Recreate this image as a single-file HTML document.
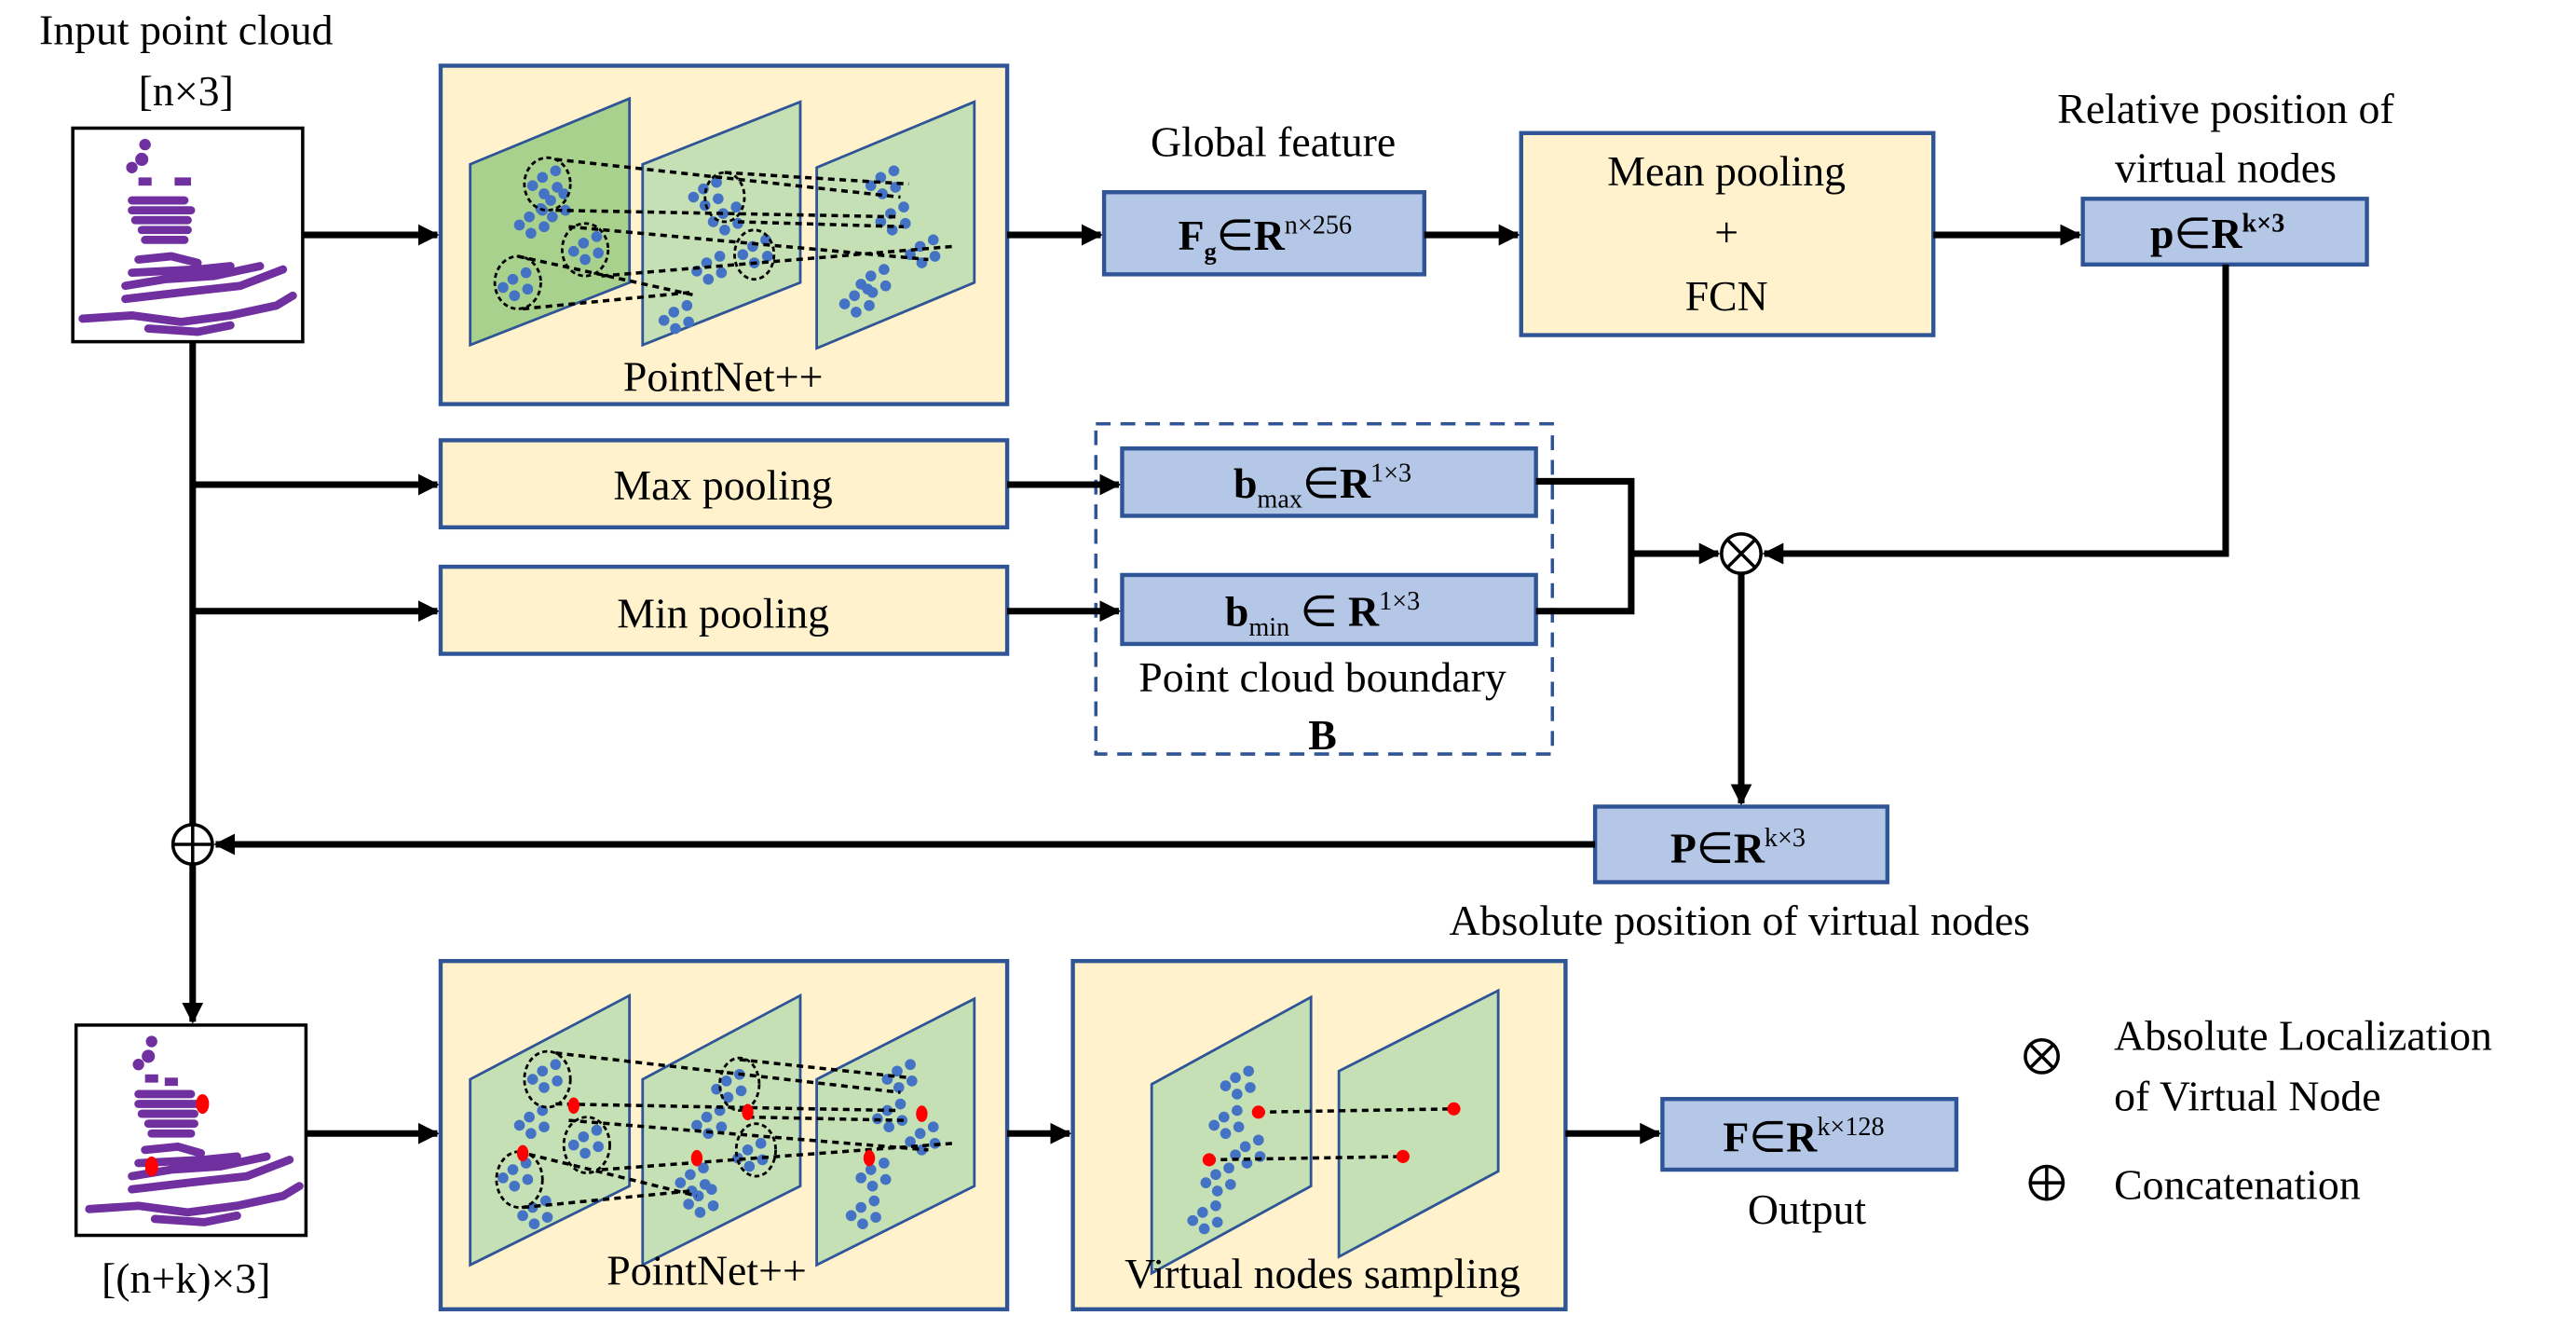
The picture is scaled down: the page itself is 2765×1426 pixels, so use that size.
<!DOCTYPE html>
<html><head><meta charset="utf-8"><style>html,body{margin:0;padding:0;background:#fff}svg{display:block}
svg text{font-family:"Liberation Serif","Times New Roman",serif}</style></head>
<body>
<svg width="2765" height="1426" viewBox="0 0 1568 809" xmlns="http://www.w3.org/2000/svg">
<defs>
<marker id="a" viewBox="0 0 10 10" markerWidth="13" markerHeight="13" refX="9" refY="5" orient="auto" markerUnits="userSpaceOnUse"><path d="M0,0 L10,5 L0,10 Z" fill="#000"/></marker>
<g id="dots">
<circle cx="0" cy="0" r="3.3"/><circle cx="8" cy="-4" r="3.3"/><circle cx="9" cy="6" r="3.3"/><circle cx="1" cy="10" r="3.3"/><circle cx="-6" cy="5" r="3.3"/>
</g>
</defs>
<style>
text{fill:#000;font-family:"Liberation Serif","Times New Roman",serif}
.y{fill:#fff2cc;stroke:#2f5597;stroke-width:2.5}
.b{fill:#b4c7e7;stroke:#2f5597;stroke-width:2.5}
.ln{stroke:#000;stroke-width:4;fill:none}
.pl1{fill:#a9d18e;stroke:#2f5597;stroke-width:1.6}
.pl2{fill:#c5e0b4;stroke:#2f5597;stroke-width:1.6}
.dash{stroke:#000;stroke-width:2;stroke-dasharray:4,3;fill:none}
.bl{fill:#4472c4}
.rd{fill:#ff0000}
.cl{fill:none;stroke:#000;stroke-width:1.6;stroke-dasharray:3,2}
.t{font-size:26px}
.bt{font-size:26px;font-weight:bold}
.pc{stroke:#7030a0;stroke-width:5;fill:none;stroke-linecap:round}
.pd{fill:#7030a0}
</style>

<text class="t" x="113" y="27" text-anchor="middle">Input point cloud</text>
<text class="t" x="113" y="64" text-anchor="middle">[n×3]</text>

<rect x="44" y="78" width="140" height="130" fill="#fff" stroke="#000" stroke-width="2"/>
<g>
<circle class="pd" cx="88" cy="88" r="3.5"/><circle class="pd" cx="86" cy="97" r="4"/><circle class="pd" cx="80" cy="102" r="3.5"/>
<rect class="pd" x="84" y="108" width="8" height="5"/><rect class="pd" x="106" y="108" width="10" height="5"/>
<path class="pc" d="M80,122 L112,122 M80,128 L116,128 M82,134 L114,134 M86,140 L114,140 M88,146 L112,146"/>
<path class="pc" d="M84,158 L104,156 L120,160 M80,166 L120,164 L140,162 M76,174 L100,170 L130,168 L158,162 M76,182 L110,178 L146,174 L172,164 M50,194 L80,192 L110,196 L140,192 L168,186 L178,180 M90,200 L120,202 L140,198"/>
</g>
<path class="ln" d="M184,143 L266,143" marker-end="url(#a)"/>

<rect class="y" x="268" y="40" width="345" height="206"/>
<polygon class="pl1" points="286,100 383,60 383,172 286,210"/>
<polygon class="pl2" points="391,100 487,62 487,172 391,210"/>
<polygon class="pl2" points="497,102 593,62 593,172 497,212"/>
<g class="bl">
<use href="#dots" x="330" y="108"/><use href="#dots" x="322" y="132"/><use href="#dots" x="355" y="148"/><use href="#dots" x="312" y="170"/><use href="#dots" x="335" y="122"/>
<use href="#dots" x="428" y="115"/><use href="#dots" x="440" y="130"/><use href="#dots" x="458" y="150"/><use href="#dots" x="430" y="160"/><use href="#dots" x="410" y="190"/>
<use href="#dots" x="536" y="108"/><use href="#dots" x="542" y="130"/><use href="#dots" x="560" y="150"/><use href="#dots" x="530" y="168"/><use href="#dots" x="520" y="180"/>
</g>
<ellipse class="cl" cx="333" cy="112" rx="14" ry="16"/><ellipse class="cl" cx="356" cy="152" rx="14" ry="16"/><ellipse class="cl" cx="315" cy="172" rx="14" ry="16"/>
<ellipse class="cl" cx="441" cy="120" rx="12" ry="15"/><ellipse class="cl" cx="459" cy="155" rx="12" ry="15"/>
<path class="dash" d="M338,97 L548,120 M338,128 L548,132 M346,138 L565,158 M366,168 L580,150 M315,156 L424,180 M318,188 L420,178 M441,105 L553,112 M449,135 L550,138"/>
<text class="t" x="440" y="238" text-anchor="middle">PointNet++</text>

<path class="ln" d="M613,143 L670,143" marker-end="url(#a)"/>
<text class="t" x="775" y="95" text-anchor="middle">Global  feature</text>
<rect class="b" x="672" y="117" width="195" height="50"/>
<text class="bt" x="770" y="152" text-anchor="middle">F<tspan font-size="15" dy="6">g</tspan><tspan dy="-6" font-weight="normal">∈</tspan>R<tspan font-size="16" font-weight="normal" dy="-10">n×256</tspan></text>

<path class="ln" d="M867,143 L924,143" marker-end="url(#a)"/>
<rect class="y" x="926" y="81" width="251" height="123"/>
<text class="t" x="1051" y="113" text-anchor="middle">Mean pooling</text>
<text class="t" x="1051" y="150" text-anchor="middle">+</text>
<text class="t" x="1051" y="189" text-anchor="middle">FCN</text>

<path class="ln" d="M1177,143 L1266,143" marker-end="url(#a)"/>
<text class="t" x="1355" y="75" text-anchor="middle">Relative position of</text>
<text class="t" x="1355" y="111" text-anchor="middle">virtual nodes</text>
<rect class="b" x="1268" y="121" width="173" height="40"/>
<text class="bt" x="1350" y="151" text-anchor="middle">p<tspan font-weight="normal">∈</tspan>R<tspan font-size="16" dy="-10">k×3</tspan></text>
<path class="ln" d="M1355,161 L1355,337 L1074,337" marker-end="url(#a)"/>

<path class="ln" d="M117,208 L117,502"/>
<path class="ln" d="M117,295 L266,295" marker-end="url(#a)"/>
<path class="ln" d="M117,372 L266,372" marker-end="url(#a)"/>

<rect class="y" x="268" y="268" width="345" height="53"/>
<text class="t" x="440" y="304" text-anchor="middle">Max pooling</text>
<rect class="y" x="268" y="345" width="345" height="53"/>
<text class="t" x="440" y="382" text-anchor="middle">Min pooling</text>

<rect x="667" y="258" width="278" height="201" fill="none" stroke="#2f5597" stroke-width="2" stroke-dasharray="9,6"/>
<path class="ln" d="M613,295 L681,295" marker-end="url(#a)"/>
<path class="ln" d="M613,372 L681,372" marker-end="url(#a)"/>
<rect class="b" x="683" y="273" width="252" height="41"/>
<text class="bt" x="805" y="303" text-anchor="middle">b<tspan font-size="16" font-weight="normal" dy="6">max</tspan><tspan dy="-6" font-weight="normal">∈</tspan>R<tspan font-size="16" font-weight="normal" dy="-10">1×3</tspan></text>
<rect class="b" x="683" y="350" width="252" height="42"/>
<text class="bt" x="805" y="381" text-anchor="middle">b<tspan font-size="16" font-weight="normal" dy="6">min</tspan><tspan dy="-6" font-weight="normal">  ∈ </tspan>R<tspan font-size="16" font-weight="normal" dy="-10">1×3</tspan></text>
<text class="t" x="805" y="421" text-anchor="middle">Point cloud boundary</text>
<text class="bt" x="805" y="456" text-anchor="middle">B</text>

<path class="ln" d="M935,293 L993,293 L993,372 L935,372 M993,337 L1046,337" marker-end="url(#a)"/>

<circle cx="1060" cy="337" r="12" fill="#fff" stroke="#000" stroke-width="2"/>
<path d="M1051.5,328.5 L1068.5,345.5 M1068.5,328.5 L1051.5,345.5" stroke="#000" stroke-width="2"/>
<path class="ln" d="M1060,349 L1060,489" marker-end="url(#a)"/>

<rect class="b" x="971" y="491" width="178" height="46"/>
<text class="bt" x="1058" y="525" text-anchor="middle">P<tspan font-weight="normal">∈</tspan>R<tspan font-size="16" font-weight="normal" dy="-10">k×3</tspan></text>
<path class="ln" d="M971,514 L131,514" marker-end="url(#a)"/>
<text class="t" x="1059" y="569" text-anchor="middle">Absolute position of virtual nodes</text>

<circle cx="117" cy="514" r="12" fill="#fff" stroke="#000" stroke-width="2"/>
<path d="M105,514 L129,514 M117,502 L117,526" stroke="#000" stroke-width="2"/>
<path class="ln" d="M117,526 L117,622" marker-end="url(#a)"/>

<rect x="46" y="624" width="140" height="128" fill="#fff" stroke="#000" stroke-width="2"/>
<g>
<circle class="pd" cx="92" cy="634" r="3.5"/><circle class="pd" cx="90" cy="643" r="4"/><circle class="pd" cx="84" cy="648" r="3.5"/>
<rect class="pd" x="88" y="654" width="8" height="5"/><rect class="pd" x="100" y="656" width="8" height="5"/>
<path class="pc" d="M84,666 L116,666 M84,672 L120,672 M86,678 L118,678 M90,684 L118,684 M92,690 L116,690"/>
<path class="pc" d="M88,700 L108,698 L122,702 M84,708 L124,706 L144,704 M80,716 L104,712 L134,710 L162,704 M80,724 L114,720 L150,716 L176,706 M54,736 L84,734 L114,738 L144,734 L172,728 L182,722 M94,742 L124,744 L144,740"/>
<ellipse class="rd" cx="123" cy="672" rx="4" ry="6"/><ellipse class="rd" cx="92" cy="710" rx="4" ry="6"/>
</g>
<text class="t" x="113" y="787" text-anchor="middle">[(n+k)×3]</text>
<path class="ln" d="M186,690 L266,690" marker-end="url(#a)"/>

<rect class="y" x="268" y="585" width="345" height="212"/>
<polygon class="pl2" points="286,657 383,606 383,722 286,770"/>
<polygon class="pl2" points="391,657 487,606 487,722 391,770"/>
<polygon class="pl2" points="497,657 593,608 593,722 497,770"/>
<g class="bl">
<use href="#dots" x="330" y="652"/><use href="#dots" x="322" y="680"/><use href="#dots" x="355" y="692"/><use href="#dots" x="312" y="712"/><use href="#dots" x="324" y="735"/>
<use href="#dots" x="442" y="658"/><use href="#dots" x="430" y="680"/><use href="#dots" x="455" y="700"/><use href="#dots" x="420" y="715"/><use href="#dots" x="425" y="728"/>
<use href="#dots" x="546" y="652"/><use href="#dots" x="540" y="676"/><use href="#dots" x="560" y="690"/><use href="#dots" x="530" y="712"/><use href="#dots" x="524" y="735"/>
</g>
<ellipse class="cl" cx="333" cy="657" rx="14" ry="17"/><ellipse class="cl" cx="357" cy="697" rx="14" ry="17"/><ellipse class="cl" cx="316" cy="718" rx="14" ry="17"/>
<ellipse class="cl" cx="450" cy="660" rx="12" ry="16"/><ellipse class="cl" cx="460" cy="700" rx="12" ry="16"/>
<path class="dash" d="M338,641 L548,665 M338,672 L548,676 M346,682 L565,700 M366,712 L580,696 M315,701 L424,728 M318,735 L420,725 M450,645 L553,656 M455,680 L550,682"/>
<g class="rd"><ellipse cx="349" cy="673" rx="3.5" ry="5"/><ellipse cx="318" cy="702" rx="3.5" ry="5"/><ellipse cx="455" cy="677" rx="3.5" ry="5"/><ellipse cx="424" cy="705" rx="3.5" ry="5"/><ellipse cx="561" cy="678" rx="3.5" ry="5"/><ellipse cx="529" cy="705" rx="3.5" ry="5"/></g>
<text class="t" x="430" y="782" text-anchor="middle">PointNet++</text>
<path class="ln" d="M613,690 L651,690" marker-end="url(#a)"/>

<rect class="y" x="653" y="585" width="300" height="212"/>
<polygon class="pl2" points="701,660 798,607 798,722 701,775"/>
<polygon class="pl2" points="815,652 912,603 912,713 815,765"/>
<g class="bl">
<use href="#dots" x="752" y="656"/><use href="#dots" x="745" y="680"/><use href="#dots" x="758" y="698"/><use href="#dots" x="740" y="715"/><use href="#dots" x="732" y="738"/>
</g>
<path class="dash" d="M766,677 L885,675 M736,706 L854,704"/>
<g class="rd"><circle cx="766" cy="677" r="4"/><circle cx="885" cy="675" r="4"/><circle cx="736" cy="706" r="4"/><circle cx="854" cy="704" r="4"/></g>
<text class="t" x="805" y="784" text-anchor="middle">Virtual nodes sampling</text>

<path class="ln" d="M953,690 L1010,690" marker-end="url(#a)"/>
<rect class="b" x="1012" y="669" width="179" height="43"/>
<text class="bt" x="1098" y="701" text-anchor="middle">F<tspan font-weight="normal">∈</tspan>R<tspan font-size="16" font-weight="normal" dy="-10">k×128</tspan></text>
<text class="t" x="1100" y="745" text-anchor="middle">Output</text>

<circle cx="1243" cy="643" r="10" fill="none" stroke="#000" stroke-width="2"/>
<path d="M1236,636 L1250,650 M1250,636 L1236,650" stroke="#000" stroke-width="2"/>
<text class="t" x="1287" y="639">Absolute Localization</text>
<text class="t" x="1287" y="676">of Virtual Node</text>
<circle cx="1246" cy="720" r="10" fill="none" stroke="#000" stroke-width="2"/>
<path d="M1236,720 L1256,720 M1246,710 L1246,730" stroke="#000" stroke-width="2"/>
<text class="t" x="1287" y="730">Concatenation</text>
</svg>
</body></html>
